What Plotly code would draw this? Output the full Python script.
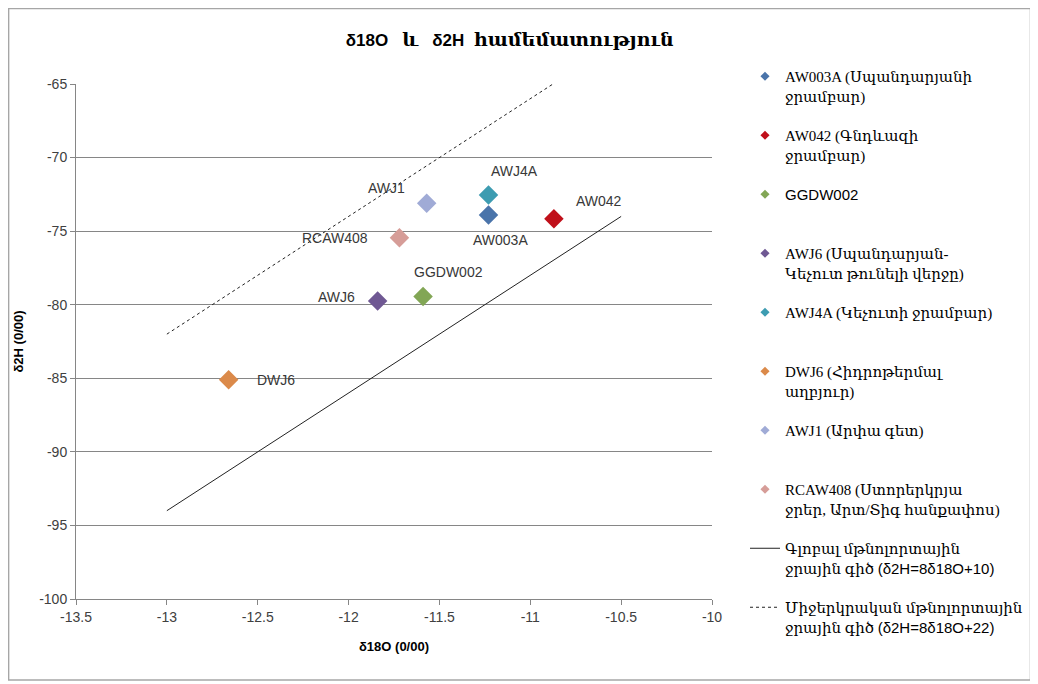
import plotly.graph_objects as go

# ---- data ----
sample_ids = ["AW003A", "AW042", "GGDW002", "AWJ6", "AWJ4A", "DWJ6", "AWJ1", "RCAW408"]
d18o = [-11.23, -10.87, -11.59, -11.84, -11.23, -12.66, -11.57, -11.72]
d2h = [-73.9, -74.15, -79.45, -79.75, -72.55, -85.1, -73.1, -75.45]
legend_names = [
    "AW003A (Սպանդարյանի<br>ջրամբար)",
    "AW042 (Գնդևազի<br>ջրամբար)",
    "<span style='font-family:Liberation Sans'>GGDW002</span><br>\u00a0",
    "AWJ6 (Սպանդարյան-<br>Կեչուտ թունելի վերջը)",
    "AWJ4A (Կեչուտի ջրամբար)<br>\u00a0",
    "DWJ6 (Հիդրոթերմալ<br>աղբյուր)",
    "AWJ1 (Արփա գետ)<br>\u00a0",
    "RCAW408 (Ստորերկրյա<br>ջրեր, Արտ/Տիգ հանքափոս)",
]
colors = ["#4A74AA", "#C0101A", "#82A655", "#6F5893", "#3D9CB1", "#DB8A4A", "#A0ABD6", "#D69D98"]
# label offsets in pixels (style)
label_dx = [12, 45, 25, -41, 26, 47, -40, -64]
label_dy = [-25, 18, 25, 4, 24, 0, 15, 0]

gmwl_x = [-13.0, -10.5]
gmwl_y = [-94.0, -74.0]
lmwl_x = [-13.0, -10.875]
lmwl_y = [-82.0, -65.0]
gmwl_name = "Գլոբալ մթնոլորտային<br>ջրային գիծ <span style='font-family:Liberation Sans'>(δ2H=8δ18O+10)</span>"
lmwl_name = "Միջերկրական մթնոլորտային<br>ջրային գիծ <span style='font-family:Liberation Sans'>(δ2H=8δ18O+22)</span>"

x_ticks = [-13.5, -13, -12.5, -12, -11.5, -11, -10.5, -10]
y_ticks = [-100, -95, -90, -85, -80, -75, -70, -65]

W, H = 1030, 676
L, R, T, B = 68, 325, 76, 85
pw, ph = W - L - R, H - T - B

fig = go.Figure()

for i, sid in enumerate(sample_ids):
    fig.add_trace(go.Scatter(
        x=[d18o[i]], y=[d2h[i]], mode="markers",
        marker=dict(symbol="diamond", size=15, color=colors[i]),
        showlegend=False, name=sid,
    ))
    fig.add_annotation(x=d18o[i], y=d2h[i], text=sid, showarrow=False,
                       xshift=label_dx[i], yshift=label_dy[i],
                       font=dict(family="Liberation Sans, Arial", size=14, color="#383838"))

for i, sid in enumerate(sample_ids):
    fig.add_trace(go.Scatter(
        x=[None], y=[None], mode="markers", name=legend_names[i], legendgroup=f"g{i}",
        marker=dict(symbol="diamond", size=7, color=colors[i]),
    ))

fig.add_trace(go.Scatter(x=gmwl_x, y=gmwl_y, mode="lines", line=dict(color="#222222", width=1),
                         name=gmwl_name, legendgroup="gm", hoverinfo="skip"))
fig.add_trace(go.Scatter(x=lmwl_x, y=lmwl_y, mode="lines", line=dict(color="#222222", width=1, dash="3px,3px"),
                         name=lmwl_name, legendgroup="lm", hoverinfo="skip"))

fig.update_layout(
    width=W, height=H,
    margin=dict(l=L, r=R, t=T, b=B),
    paper_bgcolor="white", plot_bgcolor="white",
    title=dict(text="<b>δ18O   <span style='font-family:DejaVu Serif;font-size:19px'>և</span>   δ2H  <span style='font-family:DejaVu Serif;font-size:19px'>համեմատություն</span></b>",
               x=0.487, xanchor="center", y=1 - 32 / H, yanchor="middle",
               font=dict(family="Liberation Sans, Arial", size=17, color="#000000")),
    font=dict(family="Liberation Sans, Arial", color="#404040"),
    legend=dict(x=(1020 - L) / pw, xanchor="right", y=(T + ph - 52) / ph, yanchor="top", valign="top",
                tracegroupgap=17, traceorder="grouped", maxheight=640,
                font=dict(family="Liberation Serif, DejaVu Serif, serif", size=15, color="#000000"),
                bgcolor="rgba(0,0,0,0)"),
    xaxis=dict(range=[-13.5, -10], tickvals=x_ticks, ticktext=[str(v) for v in x_ticks],
               showgrid=False, zeroline=False, showline=True, linecolor="#868686", linewidth=1,
               ticks="outside", ticklen=5, tickcolor="#868686", automargin=False,
               tickfont=dict(size=14, color="#404040"),
               title=dict(text="<b>δ18O (0/00)</b>", font=dict(size=13, color="#000000"), standoff=18)),
    yaxis=dict(range=[-100, -65], tickvals=y_ticks, ticktext=[str(v) for v in y_ticks],
               showgrid=True, gridcolor="#868686", gridwidth=1, zeroline=False,
               showline=True, linecolor="#868686", linewidth=1,
               ticks="outside", ticklen=5, tickcolor="#868686", automargin=False,
               tickfont=dict(size=14, color="#404040"),
               title=dict(text="<b>δ2H (0/00)</b>", font=dict(size=13, color="#000000"), standoff=12)),
    shapes=[dict(type="rect", xref="paper", yref="paper",
                 x0=(0.5 - L) / pw, x1=(1024 - L) / pw,
                 y0=(T + ph - 672) / ph, y1=(T + ph - 0.5) / ph,
                 line=dict(color="#A6A6A6", width=1.5), layer="below")],
)

fig.write_html("out.html")
